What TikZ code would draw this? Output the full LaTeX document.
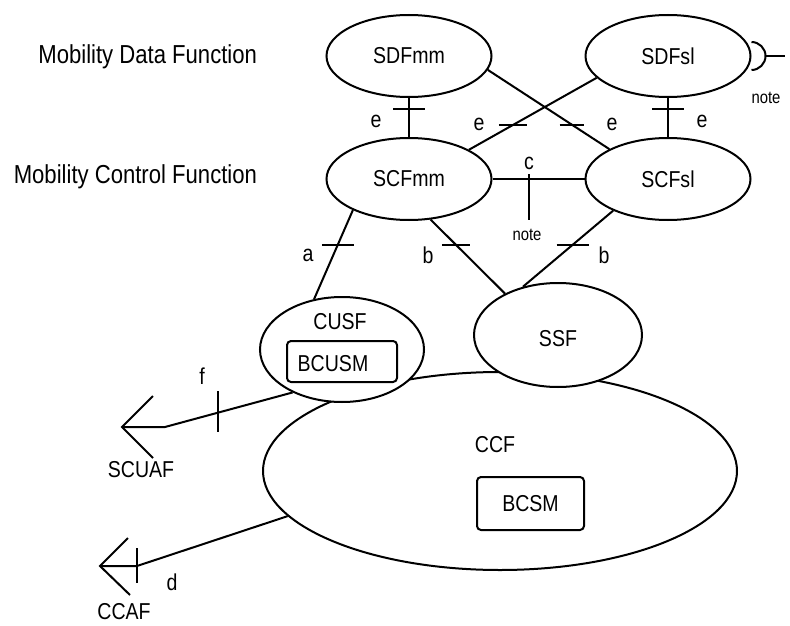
\documentclass[tikz,border=0pt]{standalone}
\usepackage{fontspec}
\setmainfont[FakeStretch=0.85]{Liberation Sans}
\usetikzlibrary{shapes.geometric}
\begin{document}
\begin{tikzpicture}[x=1pt,y=-1pt,line width=2pt,
  fn/.style={draw,ellipse,minimum width=165pt,minimum height=82pt,inner sep=0pt,font=\fontsize{23}{27}\selectfont},
  lbl/.style={font=\fontsize{23}{27}\selectfont,inner sep=0pt},
  biglbl/.style={font=\fontsize{26}{30}\selectfont,inner sep=0pt,anchor=east},
  smalllbl/.style={font=\fontsize{17.5}{20}\selectfont,inner sep=0pt},
  boxed/.style={draw,rounded corners=4pt,inner sep=0pt}]
\useasboundingbox (0,0) rectangle (790,626);

% left labels
\node[biglbl] (mdf) at (258,57) {Mobility Data Function};
\node[biglbl] (mcf) at (258,177) {Mobility Control Function};

% top ellipses
\node[fn] (sdfmm) at (409,56) {SDFmm};
\node[fn] (sdfsl) at (668,56) {SDFsl};
\node[fn] (scfmm) at (409,179) {SCFmm};
\node[fn] (scfsl) at (668,179) {SCFsl};

% CCF
\node[draw,ellipse,minimum width=474pt,minimum height=198pt,inner sep=0pt] (ccf) at (500,471) {};
\node[lbl] (ccft) at (495,445) {CCF};
\node[boxed,minimum width=107pt,minimum height=53pt,lbl] (bcsm) at (530.5,503.5) {BCSM};

% CUSF and SSF
\node[draw,ellipse,fill=white,minimum width=164pt,minimum height=105pt,inner sep=0pt] (cusf) at (342,349.5) {};
\node[lbl] (cusft) at (340,322) {CUSF};
\node[boxed,minimum width=110pt,minimum height=41pt] (bcusm) at (342,361.5) {};
\node[lbl] (bcusmt) at (333,364) {BCUSM};
\node[fn,fill=white,minimum width=168pt,minimum height=104pt] (ssf) at (558,335) {};
\node[lbl] (ssft) at (558,339) {SSF};

% e interfaces
\draw (sdfmm.south) -- (scfmm.north) coordinate[pos=0.27] (e1);
\draw ([xshift=-16pt]e1) -- ([xshift=16pt]e1);
\node[lbl] (e1l) at (376,121) {e};
\draw (sdfsl.south) -- (scfsl.north) coordinate[pos=0.27] (e4);
\draw ([xshift=-16pt]e4) -- ([xshift=16pt]e4);
\node[lbl] (e4l) at (702,121) {e};
\draw (sdfsl.-163) -- (scfmm.26) coordinate[pos=0.657] (e2);
\draw ([xshift=-14pt]e2) -- ([xshift=14pt]e2);
\node[lbl] (e2l) at (479,124) {e};
\draw (sdfmm.-10) -- (scfsl.153) coordinate[pos=0.69] (e3);
\draw ([xshift=-12pt]e3) -- ([xshift=12pt]e3);
\node[lbl] (e3l) at (612,124) {e};

% c interface
\draw (scfmm.east) -- (scfsl.west) coordinate[pos=0.4] (cm);
\draw ([yshift=5pt]cm) -- ([yshift=-41pt]cm) coordinate (cnote);
\node[lbl] (cl) at (529,163) {c};
\node[smalllbl] (cnotel) at (527,235) {note};

% a and b interfaces
\draw (scfmm.209) -- (cusf.119) coordinate[pos=0.39] (am);
\draw ([xshift=-16pt]am) -- ([xshift=16pt]am);
\node[lbl] (al) at (308,255) {a};
\draw (scfmm.-62) -- (ssf.142) coordinate[pos=0.34] (b1);
\draw ([xshift=-14pt]b1) -- ([xshift=14pt]b1);
\node[lbl] (b1l) at (428,255) {b};
\draw (scfsl.-150) -- (ssf.126) coordinate[pos=0.45] (b2);
\draw ([xshift=-16pt]b2) -- ([xshift=16pt]b2);
\node[lbl] (b2l) at (604,255) {b};

% note on SDFsl
\draw ([yshift=-14pt]sdfsl.east) arc[start angle=-90,end angle=90,radius=14pt];
\draw ([xshift=14pt]sdfsl.east) -- ([xshift=33pt]sdfsl.east);
\node[smalllbl] (snote) at (766,98) {note};

% f interface to SCUAF
\coordinate (scuaf) at (122,427);
\coordinate (fbend) at (165,427);
\draw (cusf.221) -- (fbend) -- (scuaf);
\draw (153,396) -- (scuaf) -- (153,458);
\draw (218,391) -- (218,432);
\node[lbl] (fl) at (202,376) {f};
\node[lbl] (scuafl) at (141,470) {SCUAF};

% d interface to CCAF
\coordinate (ccaf) at (100,566);
\coordinate (dbend) at (137,566);
\draw (ccf.192.6) -- (dbend) -- (ccaf);
\draw (128,538) -- (ccaf) -- (130,595);
\draw (137,548) -- (137,583);
\node[lbl] (dl) at (172,582) {d};
\node[lbl] (ccafl) at (124,612) {CCAF};
\end{tikzpicture}
\end{document}
